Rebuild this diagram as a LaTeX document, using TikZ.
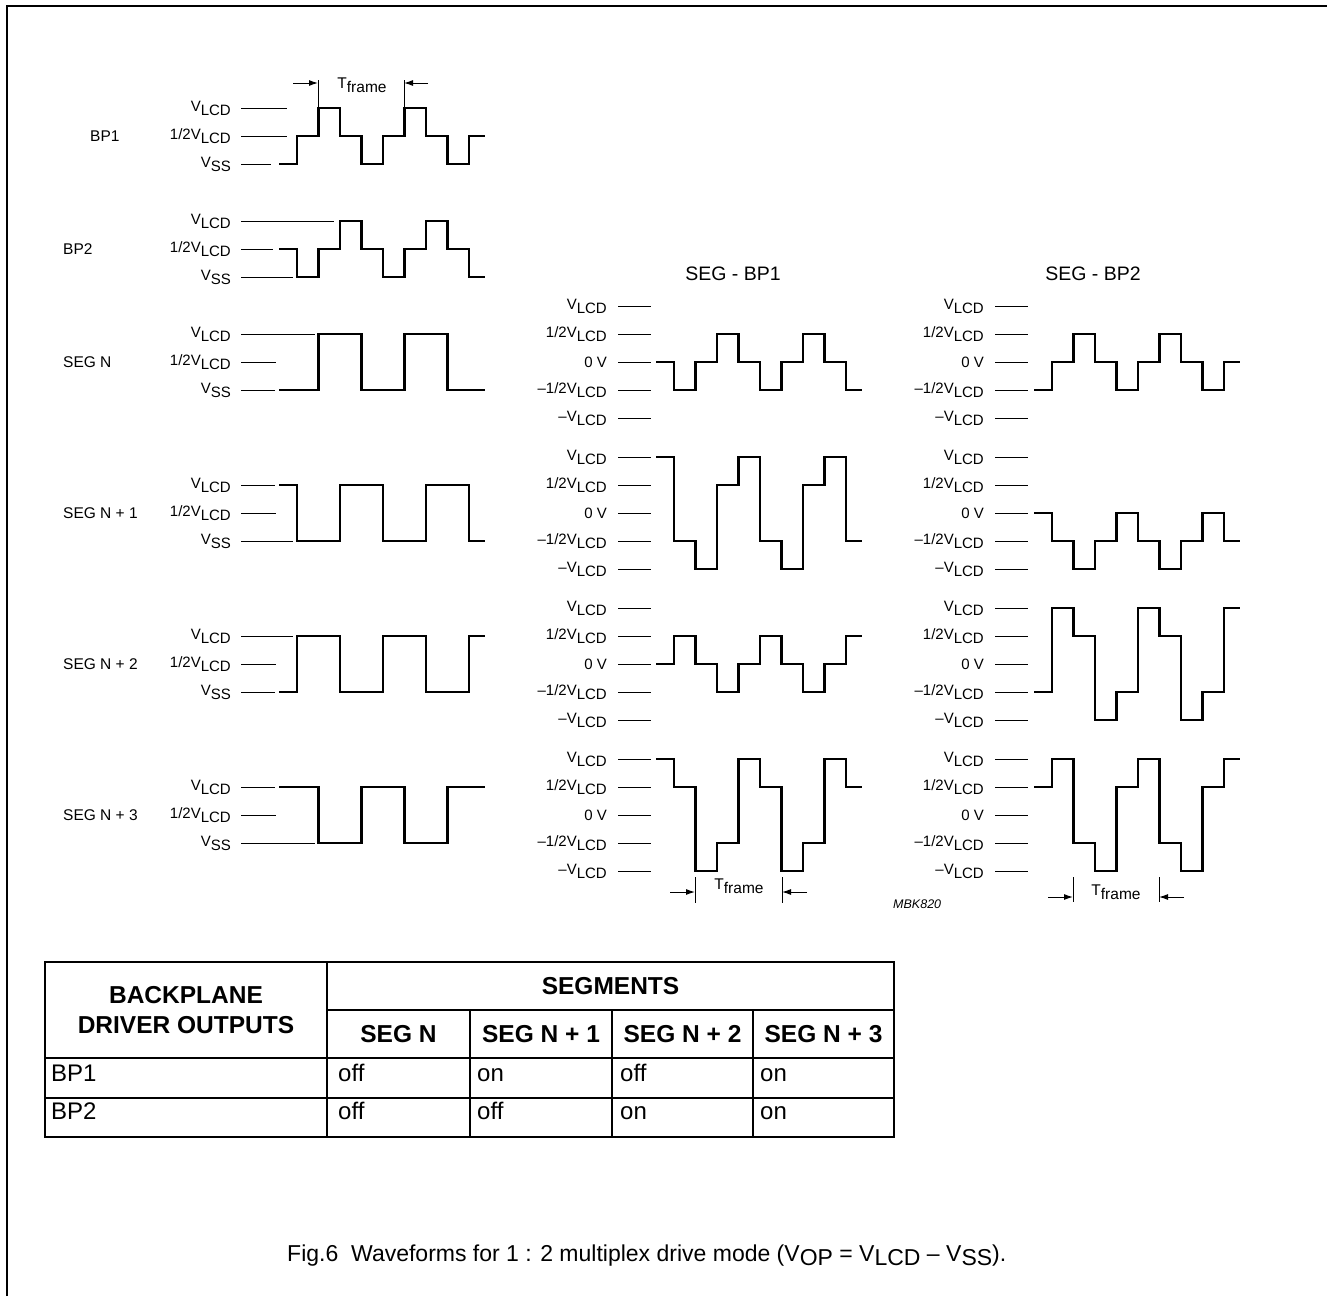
\documentclass[tikz,border=0pt]{standalone}
\usepackage{fontspec}
\setmainfont{Liberation Sans}
\usetikzlibrary{arrows.meta}

\newcommand\sbs[1]{\raisebox{-4.5pt}{#1}}
\newcommand\fs[1]{\fontsize{#1}{#1}\selectfont}

\tikzset{
  wave/.style={line width=2.3pt, line join=miter, line cap=butt},
  tickline/.style={line width=1pt},
  lvl/.style={anchor=base east, inner sep=0pt, font=\fs{15}},
  sig/.style={anchor=base west, inner sep=0pt, font=\fs{15.5}},
  ttl/.style={anchor=base, inner sep=0pt, font=\fs{19.5}},
  tmarker/.style={line width=1pt},
  farrow/.style={line width=1pt, -{Latex[length=9pt,width=6pt]}},
  tflabel/.style={anchor=base, inner sep=0pt, font=\fs{15.5}},
  tbl/.style={line width=1.5pt},
  thd/.style={anchor=base, inner sep=0pt, font=\fs{24.5}\bfseries},
  tcell/.style={anchor=base west, inner sep=0pt, font=\fs{24}},
}

% waveform: #1 = x of first step, #2 = row of level 0, #3 = list of 10 levels
\newcommand\wave[3]{%
  \gdef\wpath{}%
  \foreach \v [count=\i from 0] in {#3}{%
    \pgfmathsetmacro\ya{#2-(\v)*28}%
    \ifnum\i=0\relax
      \pgfmathsetmacro\xa{#1-18}%
      \xdef\wpath{(\xa,\ya)}%
    \else
      \ifdim \v pt=\vprev pt\relax\else
        \pgfmathsetmacro\xa{#1+(\i-1)*21.5}%
        \xdef\wpath{\wpath -- (\xa,\yprev) -- (\xa,\ya)}%
      \fi
    \fi
    \global\let\yprev\ya
    \global\let\vprev\v
  }%
  \pgfmathsetmacro\xa{#1+8*21.5+16}%
  \draw[wave] \wpath -- (\xa,\yprev);
}

% left level labels: #1 prefix, #2 VLCD row, #3 #4 #5 tick ends
\newcommand\leftlevels[5]{%
  \node[lvl] (#1v) at (231,#2+3) {V\sbs{LCD}};
  \node[lvl] (#1h) at (231,#2+31) {1/2V\sbs{LCD}};
  \node[lvl] (#1s) at (231,#2+59) {V\sbs{SS}};
  \draw[tickline] (241,#2) -- (#3,#2);
  \draw[tickline] (241,#2+28) -- (#4,#2+28);
  \draw[tickline] (241,#2+56) -- (#5,#2+56);
}

% right level labels: #1 prefix, #2 label x, #3 VLCD row
\newcommand\rightlevels[3]{%
  \node[lvl] (#1a) at (#2,#3+3) {V\sbs{LCD}};
  \node[lvl] (#1b) at (#2,#3+31) {1/2V\sbs{LCD}};
  \node[lvl] (#1c) at (#2,#3+61.3) {0 V};
  \node[lvl] (#1d) at (#2,#3+87) {–1/2V\sbs{LCD}};
  \node[lvl] (#1e) at (#2,#3+115) {–V\sbs{LCD}};
  \foreach \k in {0,...,4} {\draw[tickline] (#2+11,#3+\k*28) -- (#2+44,#3+\k*28);}
}

\begin{document}
\begin{tikzpicture}[x=1pt,y=-1pt]
\useasboundingbox (0,0) rectangle (1327,1296);

% frame
\draw[line width=2pt] (7,1296) -- (7,6) -- (1327,6);

% ---------- left column ----------
\node[sig] (nbp1) at (90,141.5) {BP1};
\node[sig] (nbp2) at (63,254.5) {BP2};
\node[sig] (nsn)  at (63,367.5) {SEG N};
\node[sig] (nsn1) at (63,518.5) {SEG N + 1};
\node[sig] (nsn2) at (63,669.5) {SEG N + 2};
\node[sig] (nsn3) at (63,820.5) {SEG N + 3};

\leftlevels{la}{108}{287}{287}{271}
\leftlevels{lb}{221}{334}{273}{293}
\leftlevels{lc}{334}{315}{276}{275}
\leftlevels{ld}{485}{275}{276}{293}
\leftlevels{le}{636}{293}{276}{275}
\leftlevels{lf}{787}{275}{276}{315}

\wave{297}{164}{0,1,2,1,0,1,2,1,0,1}
\wave{297}{277}{1,0,1,2,1,0,1,2,1,0}
\wave{297}{390}{0,0,2,2,0,0,2,2,0,0}
\wave{297}{541}{2,0,0,2,2,0,0,2,2,0}
\wave{297}{692}{0,2,2,0,0,2,2,0,0,2}
\wave{297}{843}{2,2,0,0,2,2,0,0,2,2}

% top T_frame
\coordinate (ta1) at (318,80); \coordinate (ta2) at (318,107);
\coordinate (tb1) at (404,80); \coordinate (tb2) at (404,107);
\draw[tmarker] (ta1) -- (ta2);
\draw[tmarker] (tb1) -- (tb2);
\coordinate (tal) at (293,83); \coordinate (tat) at (318,83);
\coordinate (tbr) at (428,83); \coordinate (tbt) at (404,83);
\draw[farrow] (tal) -- (tat);
\draw[farrow] (tbr) -- (tbt);
\node[tflabel] (tft) at (362,88) {T\sbs{frame}};

% ---------- right columns ----------
\node[ttl] (t1) at (733,280) {SEG - BP1};
\node[ttl] (t2) at (1093,280) {SEG - BP2};

\rightlevels{ra}{607}{306}
\rightlevels{rb}{607}{457}
\rightlevels{rc}{607}{608}
\rightlevels{rd}{607}{759}
\rightlevels{sa}{984}{306}
\rightlevels{sb}{984}{457}
\rightlevels{sc}{984}{608}
\rightlevels{sd}{984}{759}

% SEG - BP1
\wave{674}{362}{0,-1,0,1,0,-1,0,1,0,-1}
\wave{674}{513}{2,-1,-2,1,2,-1,-2,1,2,-1}
\wave{674}{664}{0,1,0,-1,0,1,0,-1,0,1}
\wave{674}{815}{2,1,-2,-1,2,1,-2,-1,2,1}
% SEG - BP2
\wave{1052}{362}{-1,0,1,0,-1,0,1,0,-1,0}
\wave{1052}{513}{0,-1,-2,-1,0,-1,-2,-1,0,-1}
\wave{1052}{664}{-1,2,1,-2,-1,2,1,-2,-1,2}
\wave{1052}{815}{1,2,-1,-2,1,2,-1,-2,1,2}

% bottom T_frame, column 1
\coordinate (ba1) at (695,877); \coordinate (ba2) at (695,903);
\coordinate (bb1) at (782,877); \coordinate (bb2) at (782,903);
\draw[tmarker] (ba1) -- (ba2);
\draw[tmarker] (bb1) -- (bb2);
\coordinate (bal) at (670,892); \coordinate (bat) at (695,892);
\coordinate (bbr) at (807,892); \coordinate (bbt) at (782,892);
\draw[farrow] (bal) -- (bat);
\draw[farrow] (bbr) -- (bbt);
\node[tflabel] (bft) at (739,889) {T\sbs{frame}};

% bottom T_frame, column 2
\coordinate (ca1) at (1073,877); \coordinate (ca2) at (1073,902);
\coordinate (cb1) at (1159,877); \coordinate (cb2) at (1159,902);
\draw[tmarker] (ca1) -- (ca2);
\draw[tmarker] (cb1) -- (cb2);
\coordinate (cal) at (1048,897); \coordinate (cat) at (1073,897);
\coordinate (cbr) at (1184,897); \coordinate (cbt) at (1159,897);
\draw[farrow] (cal) -- (cat);
\draw[farrow] (cbr) -- (cbt);
\node[tflabel] (cft) at (1116,895) {T\sbs{frame}};

\node[anchor=base west, inner sep=0pt, font=\fs{12.5}\itshape] (mbk) at (893,908) {MBK820};

% ---------- table ----------
\draw[tbl] (45,962) rectangle (894,1137);
\draw[tbl] (327,962) -- (327,1137);
\draw[tbl] (327,1010) -- (894,1010);
\draw[tbl] (45,1058) -- (894,1058);
\draw[tbl] (45,1098) -- (894,1098);
\foreach \xx in {470,612,753} {\draw[tbl] (\xx,1010) -- (\xx,1137);}

\node[thd] (h1) at (186,1003) {BACKPLANE};
\node[thd] (h2) at (186,1033) {DRIVER OUTPUTS};
\node[thd] (h3) at (610.5,994) {SEGMENTS};
\node[thd] (h4) at (398.5,1042) {SEG N};
\node[thd] (h5) at (541,1042) {SEG N + 1};
\node[thd] (h6) at (682.5,1042) {SEG N + 2};
\node[thd] (h7) at (823.5,1042) {SEG N + 3};

\node[tcell] (r1a) at (51,1081) {BP1};
\node[tcell] (r1b) at (338,1081) {off};
\node[tcell] (r1c) at (477,1081) {on};
\node[tcell] (r1d) at (620,1081) {off};
\node[tcell] (r1e) at (760,1081) {on};
\node[tcell] (r2a) at (51,1119) {BP2};
\node[tcell] (r2b) at (338,1119) {off};
\node[tcell] (r2c) at (477,1119) {off};
\node[tcell] (r2d) at (620,1119) {on};
\node[tcell] (r2e) at (760,1119) {on};

% caption
\node[anchor=base west, inner sep=0pt, font=\fs{23}] (cap) at (287,1261)
  {Fig.6\hspace{0.28em} Waveforms for 1 : 2 multiplex drive mode (V\sbs{OP} = V\sbs{LCD} – V\sbs{SS}).};
\end{tikzpicture}
\end{document}
